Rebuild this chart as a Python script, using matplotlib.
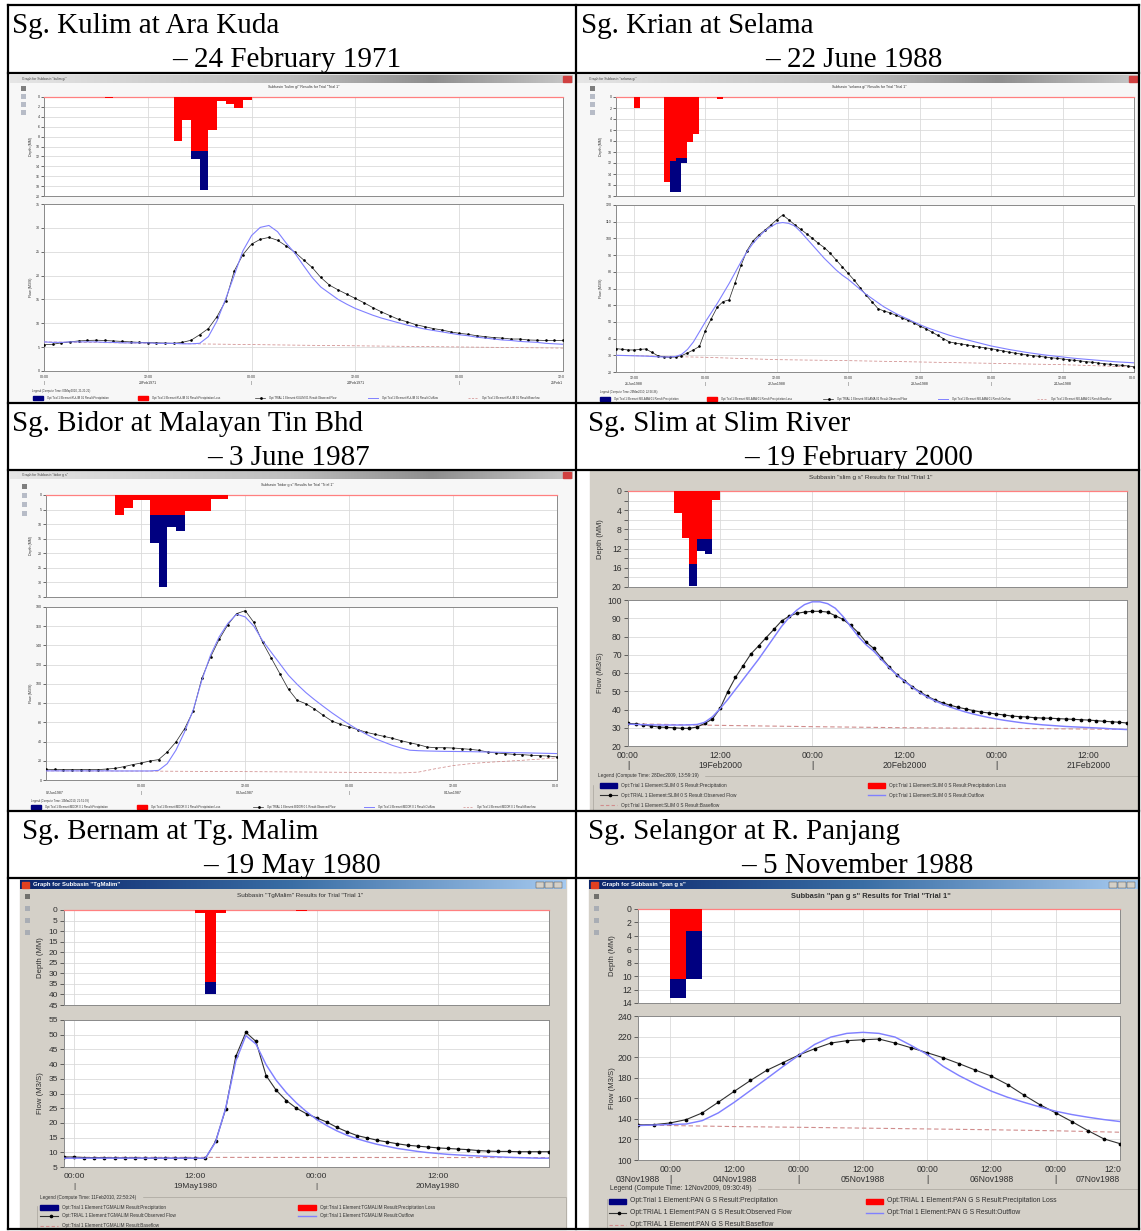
import numpy as np
import matplotlib.pyplot as plt
from matplotlib.patches import Rectangle
from matplotlib.colors import LinearSegmentedColormap
from matplotlib.transforms import blended_transform_factory

W, H = 1141, 1231

# ---------------- data (hours, mm, m3/s) ----------------
# Sg. Kulim at Ara Kuda, hour 0 = 23Feb1971 00:00
kulim_rain_t = [7, 15, 16, 17, 18, 19, 20, 21, 22, 23]
kulim_rain_total = [0.3, 8.8, 4.6, 12.6, 18.8, 6.6, 0.8, 1.5, 2.2, 0.7]
kulim_rain_loss = [0.3, 8.8, 4.6, 10.9, 10.9, 6.6, 0.8, 1.5, 2.2, 0.7]
kulim_obs = [5.5, 5.6, 5.9, 6.1, 6.3, 6.4, 6.45, 6.4, 6.3, 6.2, 6.1, 6.0, 5.96, 5.9, 5.85,
             5.8, 6.0, 6.45, 7.6, 8.9, 11.4, 14.7, 21.0, 24.4, 26.6, 27.6, 28.0, 27.4, 26.2,
             24.9, 23.3, 21.7, 19.6, 18.0, 17.0, 16.1, 15.2, 14.3, 13.3, 12.4, 11.6, 10.8,
             10.3, 9.7, 9.3, 8.9, 8.6, 8.2, 7.9, 7.7, 7.4, 7.2, 7.0, 6.9, 6.7, 6.7, 6.5,
             6.45, 6.4, 6.4, 6.4]
kulim_sim = [6.1, 6.0, 6.0, 6.1, 6.1, 6.1, 6.1, 6.0, 6.0, 5.9, 5.9, 5.9, 5.9, 5.8, 5.8,
             5.8, 5.7, 5.7, 5.8, 7.2, 10.5, 15.1, 20.1, 25.2, 28.4, 30.1, 30.5, 29.2, 26.8,
             24.7, 22.1, 19.6, 17.6, 16.3, 15.0, 14.0, 13.1, 12.4, 11.7, 11.1, 10.6, 10.1,
             9.6, 9.2, 8.8, 8.5, 8.2, 7.9, 7.6, 7.4, 7.1, 6.9, 6.7, 6.5, 6.4, 6.2, 6.1,
             6.0, 5.8, 5.7, 5.6]
kulim_base_t = [0, 17, 30, 45, 60]
kulim_base = [6.1, 5.7, 5.4, 5.1, 4.8]

# Sg. Krian at Selama, hour 0 = 21Jun1988 00:00
selama_rain_t = [12, 17, 18, 19, 20, 21, 22, 26]
selama_rain_total = [2.0, 15.4, 17.3, 17.3, 12.0, 8.1, 6.7, 0.4]
selama_rain_loss = [2.0, 15.4, 11.6, 11.0, 11.0, 8.1, 6.7, 0.4]
selama_obs = [34.0, 33.6, 33.2, 33.2, 33.5, 33.8, 31.8, 29.8, 29.0, 28.8, 29.0, 29.8, 31.4,
              33.2, 35.3, 44.7, 51.9, 58.8, 62.2, 63.2, 73.4, 83.9, 92.7, 98.5, 102.1,
              104.9, 108.0, 111.2, 114.0, 111.2, 108.2, 105.5, 102.8, 100.0, 97.0, 94.5,
              91.0, 87.0, 83.0, 79.0, 75.0, 70.5, 66.0, 62.0, 58.0, 56.5, 55.5, 54.0, 52.5,
              51.0, 49.5, 47.5, 46.0, 44.0, 42.0, 40.0, 38.0, 37.3, 36.8, 36.2, 35.6, 35.0,
              34.5, 34.0, 33.3, 32.6, 31.9, 31.3, 30.8, 30.3, 29.8, 29.4, 29.0, 28.6, 28.2,
              27.8, 27.4, 27.0, 26.6, 26.2, 25.8, 25.4, 25.0, 24.6, 24.3, 24.0, 23.6, 23.2]
selama_sim = [30.0, 29.9, 29.8, 29.7, 29.6, 29.5, 29.3, 29.1, 29.0, 29.0, 29.3, 30.5, 33.5,
              38.0, 44.0, 50.0, 55.5, 61.0, 67.0, 73.0, 79.5, 86.0, 92.0, 97.0, 101.0,
              104.5, 107.0, 109.0, 109.5, 109.0, 107.5, 104.0, 100.0, 96.0, 92.0, 88.0,
              84.5, 81.0, 78.0, 75.5, 72.5, 69.5, 66.5, 64.0, 61.5, 59.0, 57.0, 55.0, 53.3,
              51.7, 50.0, 48.4, 46.9, 45.6, 44.4, 43.2, 42.0, 41.0, 40.1, 39.2, 38.3, 37.4,
              36.5, 35.6, 34.9, 34.2, 33.5, 32.9, 32.3, 31.7, 31.2, 30.7, 30.2, 29.8, 29.4,
              29.0, 28.6, 28.2, 27.9, 27.6, 27.3, 27.0, 26.7, 26.4, 26.1, 25.9, 25.7, 25.5]
selama_base_t = [9, 24, 36, 48, 60, 72, 84, 96]
selama_base = [30.0, 28.8, 27.4, 26.8, 26.0, 25.2, 24.4, 23.0]

# Sg. Bidor at Malayan Tin Bhd, hour 0 = 02Jun1987 00:00
bidor_rain_t = [21, 22, 23, 24, 25, 26, 27, 28, 29, 30, 31, 32, 33]
bidor_rain_total = [6.9, 4.5, 1.7, 1.8, 16.5, 31.7, 11.1, 12.5, 5.5, 5.5, 5.5, 1.4, 1.3]
bidor_rain_loss = [6.9, 4.5, 1.7, 1.8, 6.9, 6.9, 6.9, 6.9, 5.5, 5.5, 5.5, 1.4, 1.3]
bidor_obs = [11.1, 11.0, 10.8, 10.8, 10.8, 10.8, 10.8, 11.4, 12.1, 13.9, 16.0, 17.7, 19.8,
             21.2, 29.1, 39.5, 53.4, 71.8, 106.0, 128.0, 146.4, 161.6, 173.1, 176.2, 164.0,
             143.3, 127.0, 110.7, 94.3, 82.9, 79.4, 73.9, 67.3, 61.4, 57.9, 55.2, 52.4, 49.6,
             47.5, 45.4, 43.4, 40.9, 38.8, 36.8, 34.3, 33.6, 33.6, 33.3, 32.6, 31.9, 30.9,
             29.1, 28.1, 27.4, 26.7, 26.4, 25.7, 25.3, 25.0, 24.0]
bidor_sim = [9.5, 9.5, 9.5, 9.5, 9.5, 9.5, 9.5, 9.5, 9.4, 9.4, 9.4, 9.4, 9.4, 10.0, 17.0,
             31.0, 50.0, 73.0, 104.0, 130.0, 149.0, 163.0, 172.5, 169.7, 160.0, 145.0, 133.0,
             121.0, 109.0, 99.5, 91.0, 83.6, 76.7, 70.0, 63.8, 57.9, 52.4, 47.5, 43.0, 39.5,
             36.0, 33.3, 31.0, 30.5, 30.2, 30.0, 29.8, 29.7, 29.6, 29.5, 29.3, 29.1, 28.9,
             28.7, 28.5, 28.3, 28.1, 27.9, 27.7, 27.5]
bidor_base_t = [13, 26, 40, 48, 54, 56, 58, 60, 62, 64, 68, 72]
bidor_base = [9.5, 9.2, 8.5, 8.0, 7.4, 8.2, 11.8, 15.0, 17.0, 18.4, 20.5, 23.0]

# Sg. Slim at Slim River, hour 0 = 19Feb2000 00:00
slim_rain_t = [6, 7, 8, 9, 10, 11]
slim_rain_total = [4.5, 9.7, 19.7, 12.6, 13.2, 1.9]
slim_rain_loss = [4.5, 9.7, 15.3, 9.9, 9.9, 1.9]
slim_obs = [32.4, 32.1, 31.5, 31.0, 30.4, 30.2, 30.0, 29.7, 29.7, 30.4, 32.4, 34.8, 40.6,
            49.8, 57.6, 64.0, 70.4, 74.8, 79.4, 83.9, 88.5, 91.2, 92.7, 93.4, 93.8, 93.8,
            93.4, 91.4, 89.4, 86.1, 82.1, 77.0, 73.5, 68.4, 63.5, 59.1, 55.8, 52.5, 49.8,
            47.2, 45.2, 43.6, 42.3, 41.2, 40.3, 39.4, 38.6, 38.1, 37.5, 37.0, 36.4, 36.1,
            35.9, 35.5, 35.3, 35.2, 35.0, 34.8, 34.6, 34.4, 34.2, 33.9, 33.5, 33.3, 33.0, 32.6]
slim_sim = [32.0, 31.8, 31.7, 31.6, 31.5, 31.5, 31.5, 31.5, 31.6, 31.8, 33.0, 36.0, 40.5,
            45.5, 51.0, 56.5, 62.0, 67.5, 73.5, 79.5, 85.5, 90.5, 94.5, 97.5, 99.0, 99.0,
            98.0, 95.5, 91.0, 85.5, 80.0, 75.5, 72.0, 67.5, 63.0, 59.0, 55.5, 52.3, 49.3,
            46.8, 44.7, 42.9, 41.3, 39.9, 38.6, 37.5, 36.5, 35.6, 34.8, 34.1, 33.5, 32.9,
            32.4, 32.0, 31.6, 31.3, 31.0, 30.7, 30.5, 30.3, 30.1, 29.9, 29.7, 29.4, 29.2, 29.0]
slim_base_t = [0, 12, 24, 36, 48, 65]
slim_base = [32.2, 31.3, 30.6, 30.0, 29.7, 29.1]

# Sg. Bernam at Tg. Malim, hour 0 = 19May1980 00:00
malim_rain_t = [12, 13, 14, 15, 20, 21, 22]
malim_rain_total = [1.6, 40.0, 1.6, 0.2, 0.2, 0.2, 0.5]
malim_rain_loss = [1.6, 34.2, 1.6, 0.2, 0.2, 0.2, 0.5]
malim_obs = [8.4, 8.4, 8.2, 8.2, 8.2, 8.1, 8.1, 8.1, 8.0, 8.0, 8.0, 8.0, 8.0, 8.0, 7.9,
             13.7, 24.7, 42.6, 50.8, 47.7, 36.1, 31.1, 27.6, 25.0, 23.1, 21.7, 20.3, 18.5,
             17.0, 15.7, 14.9, 14.1, 13.5, 12.9, 12.4, 12.1, 11.8, 11.5, 11.3, 11.1, 10.9,
             10.6, 10.4, 10.3, 10.3, 10.2, 10.2, 10.2, 10.2]
malim_sim = [8.0, 8.0, 8.0, 8.0, 8.0, 8.0, 8.0, 8.0, 8.0, 8.0, 8.0, 8.0, 8.0, 8.0, 8.0,
             13.5, 25.0, 41.0, 49.7, 46.8, 39.8, 34.5, 30.3, 26.8, 23.8, 21.2, 19.1, 17.3,
             15.8, 14.6, 13.6, 12.7, 12.0, 11.3, 10.8, 10.3, 9.9, 9.6, 9.3, 9.1, 8.9, 8.75,
             8.6, 8.45, 8.3, 8.2, 8.1, 8.0, 8.0]
malim_base_t = [-1, 47]
malim_base = [8.3, 8.2]

# Sg. Selangor at R. Panjang, hour 0 = 04Nov1988 00:00 (3-hourly)
pan_rain_t = [0, 3]
pan_rain_total = [13.2, 10.4]
pan_rain_loss = [10.4, 3.3]
pan_obs = [134.1, 134.4, 136.0, 139.3, 145.8, 156.2, 166.9, 177.3, 187.1, 194.5, 202.0,
           208.2, 213.7, 216.0, 216.9, 217.6, 213.7, 209.1, 204.3, 199.4, 193.6, 187.4,
           181.5, 173.4, 163.3, 153.9, 145.8, 137.4, 128.6, 120.5, 115.9]
pan_sim = [133.5, 134.0, 134.5, 135.0, 138.3, 145.8, 156.2, 167.6, 179.0, 190.6, 201.7,
           212.4, 219.5, 223.1, 224.1, 223.1, 219.5, 211.4, 202.6, 191.0, 181.9, 174.0,
           166.9, 161.0, 156.2, 151.6, 147.4, 144.2, 141.6, 139.3, 137.4]
pan_base_t = [-6, 0, 12, 24, 36, 48, 60, 72, 84]
pan_base = [134.0, 133.5, 132.5, 131.8, 131.0, 130.2, 129.4, 128.4, 127.0]

headers = [("Sg. Kulim at Ara Kuda", "\u2013 24 February 1971"),
           ("Sg. Krian at Selama", "\u2013 22 June 1988"),
           ("Sg. Bidor at Malayan Tin Bhd", "\u2013 3 June 1987"),
           ("Sg. Slim at Slim River", "\u2013 19 February 2000"),
           ("Sg. Bernam at Tg. Malim", "\u2013 19 May 1980"),
           ("Sg. Selangor at R. Panjang", "\u2013 5 November 1988")]

# ---------------- figure ----------------
SANS = 'Liberation Sans'
fig = plt.figure(figsize=(W / 100, H / 100), dpi=100)
fig.patch.set_facecolor('white')
bg = fig.add_axes([0, 0, 1, 1])
bg.axis('off')

NAVY, RED = '#000080', '#ff0000'
OBS, SIM, BASE = '#303030', '#8080ff', '#d08c8c'
GRID, SPINE = '#dadada', '#8a8a8a'


def px_axes(box):
    x0, y0, x1, y1 = box
    return fig.add_axes([x0 / W, 1 - y1 / H, (x1 - x0) / W, (y1 - y0) / H])


def hours(start, step, vals):
    return start + step * np.arange(len(vals))


def swatch(kind, x, y, w, h, small):
    lw = 0.5 if small else 0.8
    if kind in ('prec', 'loss'):
        bg.add_patch(Rectangle((x, y - h / 2), w, h, color=NAVY if kind == 'prec' else RED, zorder=3))
    elif kind == 'obs':
        bg.plot([x, x + w], [y, y], color=OBS, lw=lw, zorder=3)
        bg.plot([x + w * 0.6], [y], 'o', color='k', ms=1.0 if small else 1.6, zorder=3)
    elif kind == 'sim':
        bg.plot([x, x + w], [y, y], color=SIM, lw=lw + 0.2, zorder=3)
    else:
        bg.plot([x, x + w], [y, y], color=BASE, lw=lw, ls=(0, (3, 2)), zorder=3)


def draw_panel(c):
    sx0, sy0, sx1, sy1 = c['shot']
    small = c['small']
    bg.add_patch(Rectangle((sx0, sy0), sx1 - sx0, sy1 - sy0, color=c['face'], zorder=0))
    # window title bar
    if c['bar'] == 'blue':
        cmap = LinearSegmentedColormap.from_list('tb', ['#0a246a', '#3a6ea5', '#a6caf0'])
        bg.imshow(np.linspace(0, 1, 256)[None, :], cmap=cmap, aspect='auto',
                  extent=(sx0, sx1, sy0 + 10, sy0 + 1), zorder=1)
        bg.text(sx0 + 13, sy0 + 5.5, c['bar_text'], color='white', fontsize=4.3,
                fontweight='bold', family=SANS, va='center', zorder=2)
        bg.add_patch(Rectangle((sx0 + 2, sy0 + 2.5), 7, 6, color='#e04020', zorder=2))
        for k in range(3):
            bg.add_patch(Rectangle((sx1 - 30 + k * 9, sy0 + 2.5), 8, 6.5, facecolor='#d4d0c8',
                                   edgecolor='#404040', lw=0.3, zorder=2))
    elif c['bar'] == 'gray':
        cmap = LinearSegmentedColormap.from_list('tg', ['#e6e6e6', '#d0d0d0', '#bdbdbd', '#8e8e8e', '#c8c8c8'])
        bg.imshow(np.linspace(0, 1, 256)[None, :], cmap=cmap, aspect='auto',
                  extent=(sx0, sx1, sy0 + 8, sy0), zorder=1)
        bg.text(sx0 + 12, sy0 + 4, c['bar_text'], color='#404040', fontsize=2.4,
                family=SANS, va='center', zorder=2)
        bg.add_patch(Rectangle((sx1 - 10, sy0 + 1), 8, 6, color='#d04040', zorder=2))
    # toolbar icons
    tx = c['tool_x']
    for k in range(4):
        ty = c['tool_y'] + k * c['tool_dy']
        bg.add_patch(Rectangle((tx - 2.5, ty - 2.5), 5, 5, facecolor='#8d96a8' if k else '#303030',
                               edgecolor='none', alpha=0.6, zorder=2))
    # subtitle
    bg.text(c['sub_xy'][0], c['sub_xy'][1], c['subtitle'], ha='center', va='center',
            fontsize=c['sub_fs'], family=SANS, color='#303030',
            fontweight='bold' if c['sub_bold'] else 'normal', zorder=2)

    fs = c['fs']
    lab_col = '#303030'
    # --- hyetograph ---
    ar = px_axes(c['rain_box'])
    ar.set_facecolor('white')
    ar.bar(c['rain_t'], c['rain_total'], width=c['rain_w'], align='edge', color=NAVY, lw=0, zorder=2)
    ar.bar(c['rain_t'], c['rain_loss'], width=c['rain_w'], align='edge', color=RED, lw=0, zorder=3)
    ar.set_xlim(c['xlim'])
    ar.set_ylim(c['depth_ticks'][-1], 0)
    ar.set_yticks(c['depth_ticks'])
    ar.set_yticklabels(c['depth_labels'])
    ar.set_xticks(c['time_ticks'])
    ar.set_xticklabels([])
    # --- hydrograph ---
    aq = px_axes(c['flow_box'])
    aq.set_facecolor('white')
    lw = 0.55 if small else 0.8
    aq.plot(c['base_t'], c['base'], color=BASE, lw=lw, ls=(0, (4, 2.5)), zorder=3)
    aq.plot(c['obs_t'], c['obs'], color=OBS, lw=lw, marker='o', ms=0.9 if small else 1.7,
            mfc='k', mec='k', zorder=4)
    aq.plot(c['sim_t'], c['sim'], color=SIM, lw=lw + 0.25, zorder=5)
    aq.set_xlim(c['xlim'])
    aq.set_ylim(c['flow_ticks'][0], c['flow_ticks'][-1])
    aq.set_yticks(c['flow_ticks'])
    aq.set_xticks(c['time_ticks'])
    aq.set_xticklabels([])

    for a in (ar, aq):
        a.grid(True, color=GRID, lw=0.6)
        a.set_axisbelow(True)
        a.tick_params(axis='x', length=0)
        a.tick_params(axis='y', labelsize=fs, colors=lab_col, length=2 if small else 3,
                      width=0.5, pad=1 if small else 1.5)
        for lbl in a.get_yticklabels():
            lbl.set_family(SANS)
        for s in a.spines.values():
            s.set_color(SPINE)
            s.set_linewidth(0.7)
    ar.spines['top'].set_color('#ff8080')
    ar.spines['top'].set_linewidth(0.9)

    # time / date labels under the hydrograph
    fb = c['flow_box']
    bh = fb[3] - fb[1]
    tr = blended_transform_factory(aq.transData, aq.transAxes)
    for t, s in zip(c['time_ticks'], c['time_labels']):
        ha = 'right' if t == c['xlim'][1] else 'center'
        aq.text(t + (0.25 if ha == 'right' else 0), -c['lab_dy'] / bh, s, transform=tr,
                ha=ha, va='center', fontsize=fs, family=SANS, color=lab_col)
    for t in c['seps']:
        aq.text(t, -c['date_dy'] / bh, '|', transform=tr, ha='center', va='center',
                fontsize=fs, family=SANS, color=lab_col)
    for t, s, ha in zip(c['date_pos'], c['date_labels'], c['date_ha']):
        aq.text(t, -c['date_dy'] / bh, s, transform=tr, ha=ha, va='center',
                fontsize=fs, family=SANS, color=lab_col)

    # axis titles
    rb = c['rain_box']
    bg.text(c['ylab_x'], (rb[1] + rb[3]) / 2, 'Depth (MM)', rotation=90, ha='center',
            va='center', fontsize=c['ylab_fs'], family=SANS, color=lab_col, zorder=2)
    bg.text(c['ylab_x'], (fb[1] + fb[3]) / 2, 'Flow (M3/S)', rotation=90, ha='center',
            va='center', fontsize=c['ylab_fs'], family=SANS, color=lab_col, zorder=2)

    # legend
    title_kw = {}
    if c.get('leg_box'):
        lx0, ly0, lx1, ly1 = c['leg_box']
        bg.add_patch(Rectangle((lx0, ly0), lx1 - lx0, ly1 - ly0, facecolor='none',
                               edgecolor='#b0aca4', lw=0.6, zorder=2))
        title_kw['backgroundcolor'] = c['face']
    bg.text(c['leg_title_xy'][0], c['leg_title_xy'][1], c['leg_title'], ha='left', va='center',
            fontsize=c['leg_fs'], family=SANS, color=lab_col, zorder=3, **title_kw)
    sw, sh = c['sw']
    for kind, text, x, y in c['leg_items']:
        swatch(kind, x, y, sw, sh, small)
        bg.text(x + sw + 4, y, text, ha='left', va='center', fontsize=c['leg_fs'],
                family=SANS, color=lab_col, zorder=3)


def legend_items(elem, trial_case, xs, ys):
    kinds = ['prec', 'loss', 'obs', 'sim', 'base']
    names = ['Precipitation', 'Precipitation Loss', 'Observed Flow', 'Outflow', 'Baseflow']
    out = []
    for k, n, tc, x, y in zip(kinds, names, trial_case, xs, ys):
        out.append((k, 'Opt:%s 1 Element:%s Result:%s' % (tc, elem, n), x, y))
    return out


panels = [
    dict(shot=(10, 75, 573, 402), face='#f7f7f7', bar='gray', bar_text='Graph for Subbasin "kulim g/"',
         small=True, tool_x=23, tool_y=88, tool_dy=8,
         subtitle='Subbasin "kulim g/" Results for Trial "Trial 1"', sub_xy=(304, 87), sub_fs=2.6, sub_bold=False,
         fs=2.6, rain_box=(44, 97, 563, 196), flow_box=(44, 204, 563, 371), xlim=(0, 60),
         rain_t=kulim_rain_t, rain_total=kulim_rain_total, rain_loss=kulim_rain_loss, rain_w=1,
         depth_ticks=list(range(0, 21, 2)), depth_labels=[str(v) for v in range(0, 21, 2)],
         flow_ticks=list(range(0, 36, 5)),
         obs_t=hours(0, 1, kulim_obs), obs=kulim_obs, sim_t=hours(0, 1, kulim_sim), sim=kulim_sim,
         base_t=kulim_base_t, base=kulim_base,
         time_ticks=[0, 12, 24, 36, 48, 60], time_labels=['00:00', '12:00', '00:00', '12:00', '00:00', '12:0'],
         seps=[0, 24, 48], date_pos=[12, 36, 60], date_labels=['23Feb1971', '24Feb1971', '25Feb1'],
         date_ha=['center', 'center', 'right'], lab_dy=6, date_dy=12, ylab_x=31, ylab_fs=2.6,
         leg_title='Legend (Compute Time: 03May2010, 21:21:21)', leg_title_xy=(32, 391), leg_fs=2.0,
         sw=(10, 3.5),
         leg_items=legend_items('KULIM 01', ['Trial', 'Trial', 'TRIAL', 'Trial', 'Trial'],
                                [33, 138, 255, 368, 468], [398] * 5)),
    dict(shot=(577, 75, 1139, 402), face='#f7f7f7', bar='gray', bar_text='Graph for Subbasin "selama g/"',
         small=True, tool_x=592, tool_y=88, tool_dy=8,
         subtitle='Subbasin "selama g/" Results for Trial "Trial 1"', sub_xy=(869, 87), sub_fs=2.6, sub_bold=False,
         fs=2.6, rain_box=(616, 97, 1134, 196), flow_box=(616, 205, 1134, 372), xlim=(9, 96),
         rain_t=selama_rain_t, rain_total=selama_rain_total, rain_loss=selama_rain_loss, rain_w=1,
         depth_ticks=list(range(0, 19, 2)), depth_labels=[str(v) for v in range(0, 19, 2)],
         flow_ticks=list(range(20, 121, 10)),
         obs_t=hours(9, 1, selama_obs), obs=selama_obs, sim_t=hours(9, 1, selama_sim), sim=selama_sim,
         base_t=selama_base_t, base=selama_base,
         time_ticks=[12, 24, 36, 48, 60, 72, 84, 96],
         time_labels=['12:00', '00:00', '12:00', '00:00', '12:00', '00:00', '12:00', '00:0'],
         seps=[24, 48, 72], date_pos=[12, 36, 60, 84],
         date_labels=['21Jun1988', '22Jun1988', '23Jun1988', '24Jun1988'], date_ha=['center'] * 4,
         lab_dy=6, date_dy=12, ylab_x=601, ylab_fs=2.6,
         leg_title='Legend (Compute Time: 29Mar2010, 22:56:36)', leg_title_xy=(600, 392), leg_fs=2.0,
         sw=(10, 3.5),
         leg_items=legend_items('SELAMA 01', ['Trial', 'Trial', 'TRIAL', 'Trial', 'Trial'],
                                [600, 707, 823, 938, 1037], [399] * 5)),
    dict(shot=(10, 471, 573, 810), face='#f7f7f7', bar='gray', bar_text='Graph for Subbasin "bidor g s"',
         small=True, tool_x=24, tool_y=486, tool_dy=9,
         subtitle='Subbasin "bidor g s" Results for Trial "Trial 1"', sub_xy=(297, 485), sub_fs=2.6, sub_bold=False,
         fs=2.6, rain_box=(46, 495, 557, 597), flow_box=(46, 607, 557, 780), xlim=(13, 72),
         rain_t=bidor_rain_t, rain_total=bidor_rain_total, rain_loss=bidor_rain_loss, rain_w=1,
         depth_ticks=list(range(0, 36, 5)), depth_labels=[str(v) for v in range(0, 36, 5)],
         flow_ticks=list(range(0, 181, 20)),
         obs_t=hours(13, 1, bidor_obs), obs=bidor_obs, sim_t=hours(13, 1, bidor_sim), sim=bidor_sim,
         base_t=bidor_base_t, base=bidor_base,
         time_ticks=[24, 36, 48, 60, 72], time_labels=['00:00', '12:00', '00:00', '12:00', '00:0'],
         seps=[24, 48], date_pos=[13, 36, 60], date_labels=['02Jun1987', '03Jun1987', '04Jun1987'],
         date_ha=['left', 'center', 'center'], lab_dy=6, date_dy=13, ylab_x=31, ylab_fs=2.6,
         leg_title='Legend (Compute Time: 13Mar2010, 21:51:39)', leg_title_xy=(31, 801), leg_fs=2.0,
         sw=(10, 3.5),
         leg_items=legend_items('BIDOR 0 1', ['Trial', 'Trial', 'TRIAL', 'Trial', 'Trial'],
                                [31, 137, 253, 364, 463], [807] * 5)),
    dict(shot=(590, 471, 1139, 810), face='#d4d0c8', bar=None, bar_text='',
         small=False, tool_x=-50, tool_y=-50, tool_dy=0,
         subtitle='Subbasin "slim g s" Results for Trial "Trial 1"', sub_xy=(871, 477), sub_fs=4.6, sub_bold=False,
         fs=6.2, rain_box=(628, 491, 1127, 587), flow_box=(628, 600, 1127, 746), xlim=(0, 65),
         rain_t=slim_rain_t, rain_total=slim_rain_total, rain_loss=slim_rain_loss, rain_w=1,
         depth_ticks=list(range(0, 21, 2)), depth_labels=[str(v) if v % 4 == 0 else '' for v in range(0, 21, 2)],
         flow_ticks=list(range(20, 101, 10)),
         obs_t=hours(0, 1, slim_obs), obs=slim_obs, sim_t=hours(0, 1, slim_sim), sim=slim_sim,
         base_t=slim_base_t, base=slim_base,
         time_ticks=[0, 12, 24, 36, 48, 60], time_labels=['00:00', '12:00', '00:00', '12:00', '00:00', '12:00'],
         seps=[0, 24, 48], date_pos=[12, 36, 60], date_labels=['19Feb2000', '20Feb2000', '21Feb2000'],
         date_ha=['center'] * 3, lab_dy=9, date_dy=20, ylab_x=600, ylab_fs=5.4,
         leg_box=(593, 776, 1139, 810),
         leg_title='Legend (Compute Time: 28Dec2009, 13:59:19)', leg_title_xy=(598, 776), leg_fs=3.4,
         sw=(17, 5),
         leg_items=legend_items('SLIM 0 S', ['Trial', 'Trial', 'TRIAL', 'Trial', 'Trial'],
                                [600, 868, 600, 868, 600], [785, 785, 795, 795, 805])),
    dict(shot=(20, 879, 566, 1229), face='#d4d0c8', bar='blue', bar_text='Graph for Subbasin "TgMalim"',
         small=False, tool_x=27, tool_y=896, tool_dy=12,
         subtitle='Subbasin "TgMalim" Results for Trial "Trial 1"', sub_xy=(300, 895), sub_fs=4.6, sub_bold=False,
         fs=6.0, rain_box=(64, 910, 549, 1005), flow_box=(64, 1020, 549, 1167), xlim=(-1, 47),
         rain_t=malim_rain_t, rain_total=malim_rain_total, rain_loss=malim_rain_loss, rain_w=1,
         depth_ticks=list(range(0, 46, 5)), depth_labels=[str(v) for v in range(0, 46, 5)],
         flow_ticks=list(range(5, 56, 5)),
         obs_t=hours(-1, 1, malim_obs), obs=malim_obs, sim_t=hours(-1, 1, malim_sim), sim=malim_sim,
         base_t=malim_base_t, base=malim_base,
         time_ticks=[0, 12, 24, 36], time_labels=['00:00', '12:00', '00:00', '12:00'],
         seps=[0, 24], date_pos=[12, 36], date_labels=['19May1980', '20May1980'],
         date_ha=['center'] * 2, lab_dy=9, date_dy=20, ylab_x=40, ylab_fs=5.6,
         leg_box=(37, 1197, 566, 1229),
         leg_title='Legend (Compute Time: 11Feb2010, 22:50:24)', leg_title_xy=(40, 1197), leg_fs=3.3,
         sw=(18, 5),
         leg_items=legend_items('TGMALIM', ['Trial', 'Trial', 'TRIAL', 'Trial', 'Trial'],
                                [40, 298, 40, 298, 40], [1207, 1207, 1216, 1216, 1226])),
    dict(shot=(589, 879, 1139, 1229), face='#d4d0c8', bar='blue', bar_text='Graph for Subbasin "pan g s"',
         small=False, tool_x=596, tool_y=896, tool_dy=12,
         subtitle='Subbasin "pan g s" Results for Trial "Trial 1"', sub_xy=(871, 896), sub_fs=5.4, sub_bold=True,
         fs=6.2, rain_box=(638, 909, 1120, 1003), flow_box=(638, 1016, 1120, 1160), xlim=(-6, 84),
         rain_t=pan_rain_t, rain_total=pan_rain_total, rain_loss=pan_rain_loss, rain_w=3,
         depth_ticks=list(range(0, 15, 2)), depth_labels=[str(v) for v in range(0, 15, 2)],
         flow_ticks=list(range(100, 241, 20)),
         obs_t=hours(-6, 3, pan_obs), obs=pan_obs, sim_t=hours(-6, 3, pan_sim), sim=pan_sim,
         base_t=pan_base_t, base=pan_base,
         time_ticks=[0, 12, 24, 36, 48, 60, 72, 84],
         time_labels=['00:00', '12:00', '00:00', '12:00', '00:00', '12:00', '00:00', '12:0'],
         seps=[0, 24, 48, 72], date_pos=[-6, 12, 36, 60, 84],
         date_labels=['03Nov1988', '04Nov1988', '05Nov1988', '06Nov1988', '07Nov1988'],
         date_ha=['center', 'center', 'center', 'center', 'right'], lab_dy=9, date_dy=20, ylab_x=612, ylab_fs=5.6,
         leg_box=(607, 1189, 1139, 1229),
         leg_title='Legend (Compute Time: 12Nov2009, 09:30:49)', leg_title_xy=(610, 1189), leg_fs=4.9,
         sw=(17, 5),
         leg_items=legend_items('PAN G S', ['Trial', 'TRIAL', 'TRIAL', 'Trial', 'TRIAL'],
                                [609, 866, 609, 866, 609], [1201, 1201, 1213, 1213, 1225])),
]

for p in panels:
    draw_panel(p)

# ---------------- table headers and rules ----------------
serif = 'Liberation Serif'
head_rows = [(33, 67), (431, 465), (839, 873)]
head_x1 = [(12, 581), (12, 588), (22, 588)]
head_x2 = [(172, 765), (207, 744), (203, 741)]
for r in range(3):
    for col in range(2):
        t1, t2 = headers[2 * r + col]
        bg.text(head_x1[r][col], head_rows[r][0], t1, family=serif, fontsize=21, va='baseline', zorder=4)
        bg.text(head_x2[r][col], head_rows[r][1], t2, family=serif, fontsize=21, va='baseline', zorder=4)

lw_rule = 1.6
for x in (8, 576, 1139):
    bg.plot([x, x], [5, 1229], color='black', lw=lw_rule, zorder=6, solid_capstyle='projecting')
for y in (5, 73, 403, 470, 811, 878, 1229):
    bg.plot([8, 1139], [y, y], color='black', lw=lw_rule, zorder=6, solid_capstyle='projecting')

bg.set_xlim(0, W)
bg.set_ylim(H, 0)
fig.savefig('out.png', dpi=100)
